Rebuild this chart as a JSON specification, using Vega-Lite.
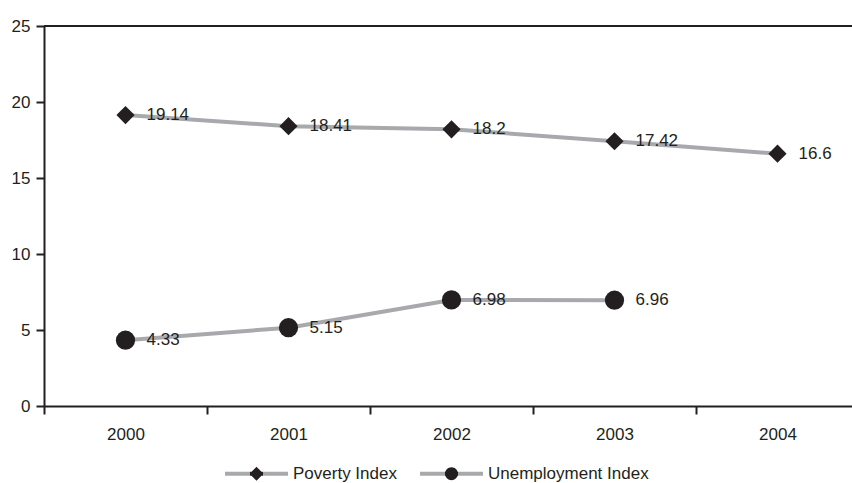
{
  "$schema": "https://vega.github.io/schema/vega-lite/v6.json",
  "width": 808,
  "height": 380,
  "autosize": {"type": "none"},
  "padding": {"left": 44, "top": 26, "right": 0, "bottom": 77},
  "background": "white",
  "config": {
    "view": {"stroke": null},
    "font": "Liberation Sans",
    "axis": {
      "domainColor": "#231f20",
      "domainWidth": 2,
      "tickColor": "#231f20",
      "tickWidth": 2,
      "tickSize": 8,
      "labelFontSize": 17,
      "labelColor": "#231f20",
      "labelFont": "Liberation Sans",
      "grid": false,
      "title": null
    }
  },
  "data": {
    "values": [
      {"year": "2000", "series": "Poverty Index", "value": 19.14},
      {"year": "2001", "series": "Poverty Index", "value": 18.41},
      {"year": "2002", "series": "Poverty Index", "value": 18.2},
      {"year": "2003", "series": "Poverty Index", "value": 17.42},
      {"year": "2004", "series": "Poverty Index", "value": 16.6},
      {"year": "2000", "series": "Unemployment Index", "value": 4.33},
      {"year": "2001", "series": "Unemployment Index", "value": 5.15},
      {"year": "2002", "series": "Unemployment Index", "value": 6.98},
      {"year": "2003", "series": "Unemployment Index", "value": 6.96}
    ]
  },
  "layer": [
    {
      "mark": {"type": "rule", "color": "#231f20", "strokeWidth": 2},
      "encoding": {"y": {"datum": 25, "type": "quantitative"}}
    },
    {
      "mark": {"type": "line", "color": "#a7a9ac", "strokeWidth": 4},
      "encoding": {
        "x": {"field": "year", "type": "ordinal", "scale": {"type": "band", "paddingInner": 0, "paddingOuter": 0, "range": [0, 815]}, "axis": {"labelAngle": 0, "tickBand": "extent", "labelPadding": 12}},
        "y": {"field": "value", "type": "quantitative", "scale": {"domain": [0, 25], "nice": false}, "axis": {"values": [0, 5, 10, 15, 20, 25], "labelPadding": 6}},
        "detail": {"field": "series"}
      }
    },
    {
      "transform": [{"filter": "datum.series === 'Poverty Index'"}],
      "mark": {"type": "point", "shape": "diamond", "filled": true, "color": "#231f20", "opacity": 1, "size": 330},
      "encoding": {
        "x": {"field": "year", "type": "ordinal"},
        "y": {"field": "value", "type": "quantitative"}
      }
    },
    {
      "transform": [{"filter": "datum.series === 'Unemployment Index'"}],
      "mark": {"type": "point", "shape": "circle", "filled": true, "color": "#231f20", "opacity": 1, "size": 370},
      "encoding": {
        "x": {"field": "year", "type": "ordinal"},
        "y": {"field": "value", "type": "quantitative"}
      }
    },
    {
      "mark": {"type": "point", "filled": true, "color": "#231f20", "opacity": 0},
      "encoding": {
        "x": {"field": "year", "type": "ordinal"},
        "y": {"field": "value", "type": "quantitative"},
        "shape": {
          "field": "series", "type": "nominal",
          "scale": {"domain": ["Poverty Index", "Unemployment Index"], "range": ["M-1,-0.063H1V0.063H-1ZM0,-0.222L0.222,0L0,0.222L-0.222,0Z", "M-1,-0.063H1V0.063H-1ZM0.205,0A0.205,0.205,0,1,1,-0.205,0A0.205,0.205,0,1,1,0.205,0Z"]},
          "legend": {
            "orient": "none",
            "legendX": 181,
            "legendY": 416,
            "direction": "horizontal",
            "title": null,
            "padding": 0,
            "symbolSize": 3969,
            "symbolOpacity": 1,
            "labelFontSize": 17,
            "labelColor": "#231f20",
            "labelFont": "Liberation Sans",
            "labelLimit": 0,
            "labelOffset": 5,
            "columnPadding": 23,
            "symbolStrokeWidth": 0,
            "encoding": {
              "symbols": {
                "fill": {"value": {"gradient": "linear", "x1": 0, "y1": 0, "x2": 1, "y2": 0, "stops": [
                  {"offset": 0, "color": "#a7a9ac"},
                  {"offset": 0.39, "color": "#a7a9ac"},
                  {"offset": 0.39, "color": "#231f20"},
                  {"offset": 0.61, "color": "#231f20"},
                  {"offset": 0.61, "color": "#a7a9ac"},
                  {"offset": 1, "color": "#a7a9ac"}
                ]}},
                "stroke": {"value": "transparent"},
                "strokeWidth": {"value": 0},
                "opacity": {"value": 1},
                "fillOpacity": {"value": 1}
              }
            }
          }
        }
      }
    },
    {
      "mark": {"type": "text", "align": "left", "baseline": "middle", "dx": 21, "fontSize": 17, "color": "#231f20", "font": "Liberation Sans"},
      "encoding": {
        "x": {"field": "year", "type": "ordinal"},
        "y": {"field": "value", "type": "quantitative"},
        "text": {"field": "value", "type": "quantitative"}
      }
    }
  ]
}
